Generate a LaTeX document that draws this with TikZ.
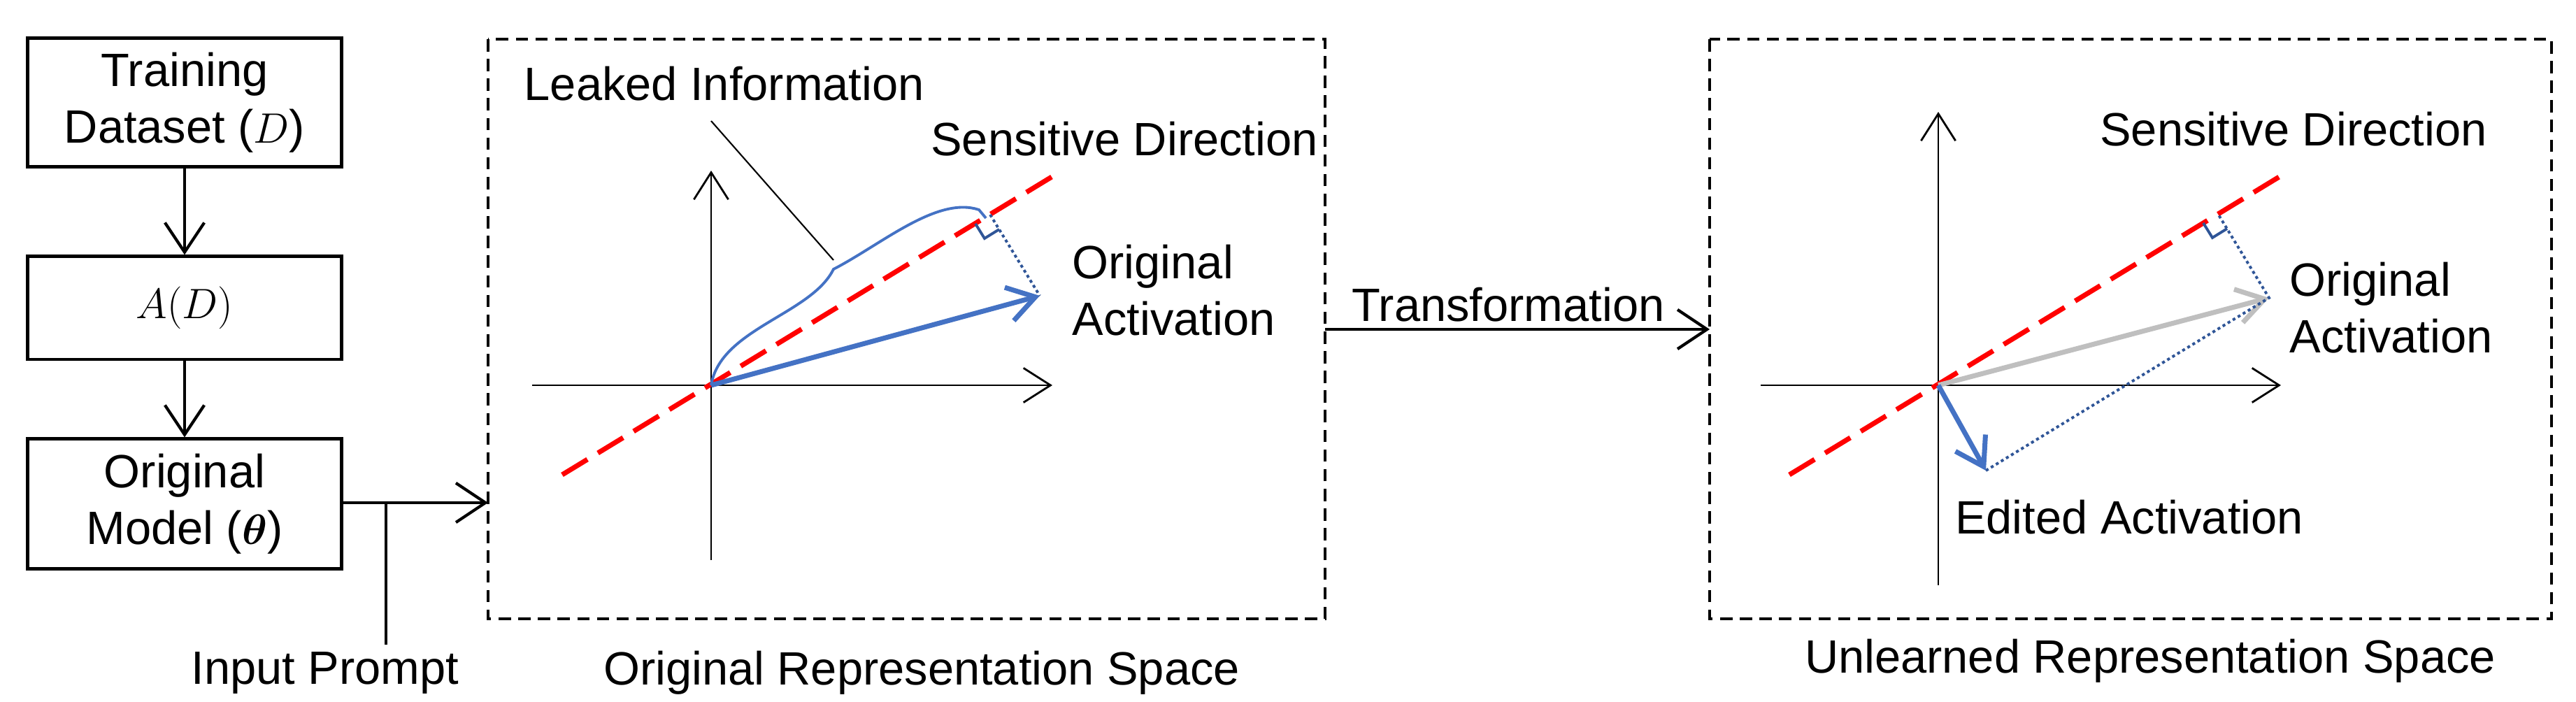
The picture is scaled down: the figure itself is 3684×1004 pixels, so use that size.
\documentclass[tikz,border=0pt]{standalone}
\usepackage{amsmath}
\usepackage{bm}
\usepackage{fontspec}
\setmainfont{Liberation Sans}
\usetikzlibrary{arrows.meta}
\begin{document}
\begin{tikzpicture}[x=0.01cm,y=-0.01cm,
  box/.style={draw,line width=1.4pt,minimum width=4.48cm,align=center,inner sep=0pt},
  dbox/.style={draw,line width=1.2pt,dash pattern=on 5pt off 3pt},
  txt/.style={font=\fontsize{19}{23}\selectfont,align=left,inner sep=0pt},
  arr/.style={line width=1.2pt,-{Straight Barb[length=12pt,width=16pt,line width=1.2pt]}},
  axis/.style={line width=0.8pt,-{Straight Barb[length=11pt,width=14pt,line width=0.8pt]}},
  redline/.style={draw=red,line width=2pt,dash pattern=on 12pt off 5pt},
  bluearr/.style={color={rgb,255:red,68;green,114;blue,196},line width=2pt,-{Straight Barb[length=11pt,width=14pt,line width=2pt]}},
  dotline/.style={draw={rgb,255:red,47;green,85;blue,151},line width=1.1pt,dash pattern=on 1.2pt off 1.2pt},
  rmark/.style={draw={rgb,255:red,47;green,85;blue,151},line width=1.1pt}]
\useasboundingbox (0,0) rectangle (3684,1004);
% left column
\node[box,minimum height=1.83cm,txt,align=center] (b1) at (264,146.5) {Training\\Dataset ($D$)};
\node[box,minimum height=1.47cm,txt,align=center] (b2) at (264,440.5) {$A(D)$};
\node[box,minimum height=1.85cm,txt,align=center] (b3) at (264,720.5) {Original\\Model ($\bm{\theta}$)};
\draw[arr] (b1) -- (b2);
\draw[arr] (b2) -- (b3);
% dashed panels
\draw[dbox] (698,56) rectangle (1895,885);
\draw[dbox] (2445,56) rectangle (3649,885);
\coordinate (p1l) at (698,719);
\draw[arr] (b3.east |- p1l) -- (p1l);
\coordinate (ip) at (552,719);
\node[txt] (iptext) at (465,962) {Input Prompt};
\draw[line width=1.2pt] (ip) -- (552,922);
\node[txt] (cap1) at (1318,962) {Original Representation Space};
\node[txt] (cap2) at (3075,945) {Unlearned Representation Space};
% transformation
\coordinate (t1) at (1895,471);
\coordinate (t2) at (2445,471);
\draw[arr] (t1) -- (t2);
\node[txt] (ttext) at (2157,436) {Transformation};
% panel 1
\coordinate (o1) at (1017,551);
\draw[axis] (761,551) -- (1505,551);
\draw[axis] (1017,801) -- (1017,244);
\draw[redline] (804,679) -- (1509,250);
\draw[bluearr] (o1) -- (1487,423);
\draw[color={rgb,255:red,68;green,114;blue,196},line width=1.1pt] (o1) .. controls (1030,470) and (1160,450) .. (1192,385) .. controls (1260,350) and (1340,280) .. (1400,300) -- (1410,312);
\node[txt,anchor=west] (leak) at (749,120) {Leaked Information};
\draw[line width=0.6pt] (1017,173) -- (1192,372);
\draw[dotline] (1416,307) -- (1487,423);
\draw[rmark] (1395,320) -- (1408,341) -- (1429,328);
\node[txt] (sd1) at (1608,199) {Sensitive Direction};
\node[txt,anchor=west] (oa1) at (1533,415) {Original\\Activation};
% panel 2
\coordinate (o2) at (2772,551);
\draw[axis] (2518,551) -- (3262,551);
\draw[axis] (2772,837) -- (2772,160);
\draw[redline] (2559,679) -- (3266,249);
\draw[draw={rgb,255:red,191;green,191;blue,191},line width=2pt,-{Straight Barb[length=11pt,width=14pt,line width=2pt]}] (o2) -- (3245,426);
\draw[dotline] (2840,673) -- (3245,426) -- (3172,306);
\draw[rmark] (3151,319) -- (3164,340) -- (3185,327);
\draw[bluearr] (o2) -- (2840,673);
\node[txt] (sd2) at (3280,185) {Sensitive Direction};
\node[txt,anchor=west] (oa2) at (3274,440) {Original\\Activation};
\node[txt] (ea) at (3045,740) {Edited Activation};
\end{tikzpicture}
\end{document}
